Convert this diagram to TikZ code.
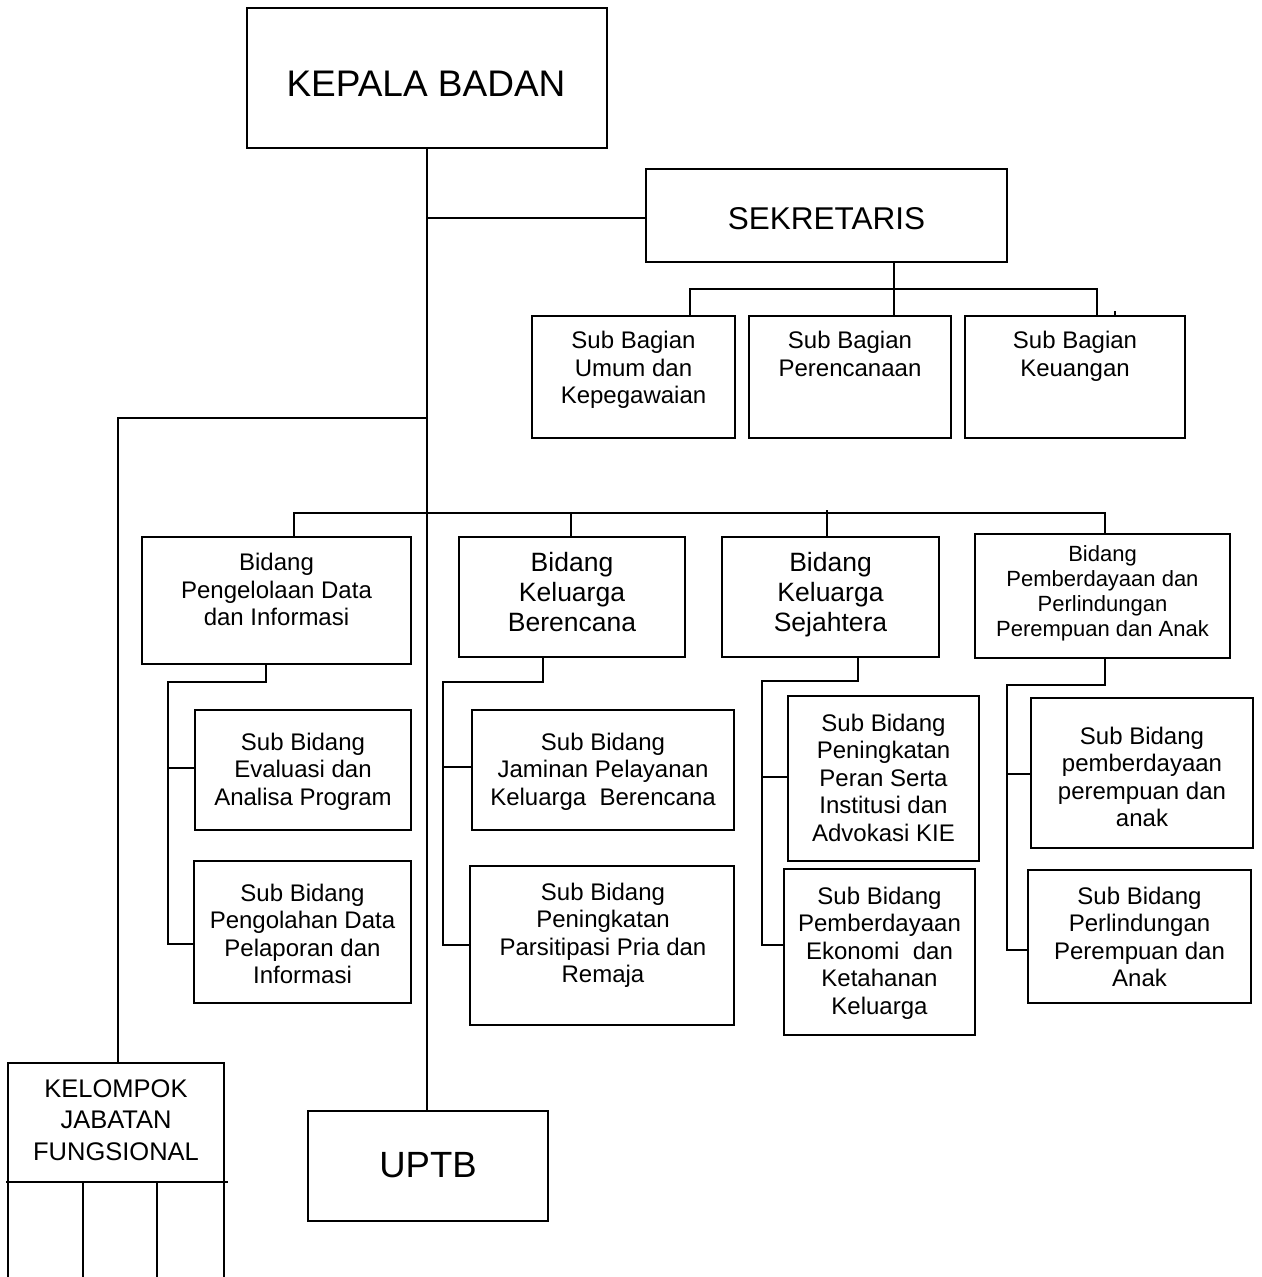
\documentclass[tikz,border=0pt]{standalone}
\usepackage{fontspec}
\setmainfont{Liberation Sans}
\begin{document}
\begin{tikzpicture}[x=1pt,y=-1pt,
  box/.style={draw, line width=1.7pt, rectangle, inner sep=0pt},
  link/.style={line width=1.7pt},
  lbl/.style={inner sep=0pt, align=center},
  sub/.style={lbl, anchor=north, font=\fontsize{24}{27.5}\selectfont},
  bid/.style={lbl, anchor=north, font=\fontsize{26.5}{30}\selectfont},
]
\useasboundingbox (0,0) rectangle (1261,1277);

% ---------- top level ----------
\node[box, minimum width=360pt, minimum height=140pt] (kb) at (427,78) {};
\node[lbl, font=\fontsize{37}{40}\selectfont] (kbt) at (426,84) {KEPALA BADAN};

\node[box, minimum width=361pt, minimum height=93pt] (sek) at (826.5,215.5) {};
\node[lbl, font=\fontsize{31.5}{34}\selectfont] (sekt) at (826.5,219) {SEKRETARIS};

% ---------- secretariat sub-sections ----------
\node[box, minimum width=203pt, minimum height=122pt] (sbU) at (633.5,377) {};
\node[sub] (sbUt) at (633.5,331.4) {Sub Bagian\\Umum dan\\Kepegawaian};
\node[box, minimum width=202pt, minimum height=122pt] (sbP) at (850,377) {};
\node[sub] (sbPt) at (850,331.4) {Sub Bagian\\Perencanaan};
\node[box, minimum width=220pt, minimum height=122pt] (sbK) at (1075,377) {};
\node[sub] (sbKt) at (1075,331.4) {Sub Bagian\\Keuangan};

% ---------- fields ----------
\node[box, minimum width=269pt, minimum height=127pt] (b1) at (276.5,600.5) {};
\node[sub] (b1t) at (276.5,553.4) {Bidang\\Pengelolaan Data\\dan Informasi};
\node[box, minimum width=226pt, minimum height=120pt] (b2) at (572,597) {};
\node[bid] (b2t) at (572,552.5) {Bidang\\Keluarga\\Berencana};
\node[box, minimum width=217pt, minimum height=120pt] (b3) at (830.5,597) {};
\node[bid] (b3t) at (830.5,552.5) {Bidang\\Keluarga\\Sejahtera};
\node[box, minimum width=255pt, minimum height=124pt] (b4) at (1102.5,596) {};
\node[lbl, anchor=north, font=\fontsize{22}{25}\selectfont] (b4t) at (1102.5,545.5)
  {Bidang\\Pemberdayaan dan\\Perlindungan\\Perempuan dan Anak};

% ---------- sub-fields ----------
\node[box, minimum width=216pt, minimum height=120pt] (sb1a) at (303,770) {};
\node[sub] (sb1at) at (303,732.4) {Sub Bidang\\Evaluasi dan\\Analisa Program};
\node[box, minimum width=217pt, minimum height=142pt] (sb1b) at (302.5,932) {};
\node[sub] (sb1bt) at (302.5,883.4) {Sub Bidang\\Pengolahan Data\\Pelaporan dan\\Informasi};

\node[box, minimum width=262pt, minimum height=120pt] (sb2a) at (603,770) {};
\node[sub] (sb2at) at (603,732.4) {Sub Bidang\\Jaminan Pelayanan\\Keluarga\ \ Berencana};
\node[box, minimum width=264pt, minimum height=159pt] (sb2b) at (602,945.5) {};
\node[sub] (sb2bt) at (603,882.4) {Sub Bidang\\Peningkatan\\Parsitipasi Pria dan\\Remaja};

\node[box, minimum width=191pt, minimum height=165pt] (sb3a) at (883.5,778.5) {};
\node[sub] (sb3at) at (883.5,713.4) {Sub Bidang\\Peningkatan\\Peran Serta\\Institusi dan\\Advokasi KIE};
\node[box, minimum width=191pt, minimum height=166pt] (sb3b) at (879.5,952) {};
\node[sub] (sb3bt) at (879.5,886.4) {Sub Bidang\\Pemberdayaan\\Ekonomi\ \ dan\\Ketahanan\\Keluarga};

\node[box, minimum width=222pt, minimum height=150pt] (sb4a) at (1142,773) {};
\node[sub] (sb4at) at (1142,726.4) {Sub Bidang\\pemberdayaan\\perempuan dan\\anak};
\node[box, minimum width=223pt, minimum height=133pt] (sb4b) at (1139.5,936.5) {};
\node[sub] (sb4bt) at (1139.5,886.4) {Sub Bidang\\Perlindungan\\Perempuan dan\\Anak};

% ---------- bottom units ----------
\node[box, minimum width=216pt, minimum height=119pt] (kjf) at (116,1122.5) {};
\node[lbl, font=\fontsize{25.5}{31.5}\selectfont] (kjft) at (116,1120) {KELOMPOK\\JABATAN\\FUNGSIONAL};
\node[box, minimum width=240pt, minimum height=110pt] (uptb) at (428,1166) {};
\node[lbl, font=\fontsize{36.5}{40}\selectfont] (uptbt) at (428,1165) {UPTB};

% open columns under the functional group
\draw[link] (6,1182) -- (228,1182);
\foreach \cx in {8,83,157,224} \draw[link] (\cx,1182) -- (\cx,1282);

% ---------- connectors ----------
% main trunk
\draw[link] (kb.south) -- (kb.south |- uptb.north);

% to secretary
\coordinate (sekj) at (427,218);
\draw[link] (sekj) -- (sekj -| sek.west);

% secretary to its sub-sections
\coordinate (sekd) at (894,289);
\coordinate (sbl) at (690,289);
\coordinate (sbr) at (1097,289);
\draw[link] (sekd |- sek.south) -- (sekd |- sbP.north);
\draw[link] (sbl |- sbU.north) -- (sbl) -- (sbr) -- (sbr |- sbK.north);
\coordinate (tick) at (1115,311);
\draw[line width=1.2pt] (tick) -- (tick |- sbK.north);

% functional group
\coordinate (kjj) at (118,418);
\draw[link] (kjj -| kb.south) -- (kjj) -- (kjj |- kjf.north);

% fields bus
\coordinate (bus1) at (294,513);
\coordinate (bus4) at (1105,513);
\draw[link] (bus1 |- b1.north) -- (bus1) -- (bus4) -- (bus4 |- b4.north);
\coordinate (d2) at (571,513);
\draw[link] (d2) -- (d2 |- b2.north);
\coordinate (d3) at (827,510);
\draw[link] (d3) -- (d3 |- b3.north);

% field 1 children
\coordinate (e1) at (266,682); \coordinate (s1) at (168,682);
\coordinate (a1) at (168,768); \coordinate (c1) at (168,944);
\draw[link] (e1 |- b1.south) -- (e1) -- (s1) -- (c1) -- (c1 -| sb1b.west);
\draw[link] (a1) -- (a1 -| sb1a.west);

% field 2 children
\coordinate (e2) at (543,682); \coordinate (s2) at (443,682);
\coordinate (a2) at (443,767); \coordinate (c2) at (443,945);
\draw[link] (e2 |- b2.south) -- (e2) -- (s2) -- (c2) -- (c2 -| sb2b.west);
\draw[link] (a2) -- (a2 -| sb2a.west);

% field 3 children
\coordinate (e3) at (858,681); \coordinate (s3) at (762,681);
\coordinate (a3) at (762,777); \coordinate (c3) at (762,945);
\draw[link] (e3 |- b3.south) -- (e3) -- (s3) -- (c3) -- (c3 -| sb3b.west);
\draw[link] (a3) -- (a3 -| sb3a.west);

% field 4 children
\coordinate (e4) at (1105,685); \coordinate (s4) at (1007,685);
\coordinate (a4) at (1007,774); \coordinate (c4) at (1007,950);
\draw[link] (e4 |- b4.south) -- (e4) -- (s4) -- (c4) -- (c4 -| sb4b.west);
\draw[link] (a4) -- (a4 -| sb4a.west);
\end{tikzpicture}
\end{document}
